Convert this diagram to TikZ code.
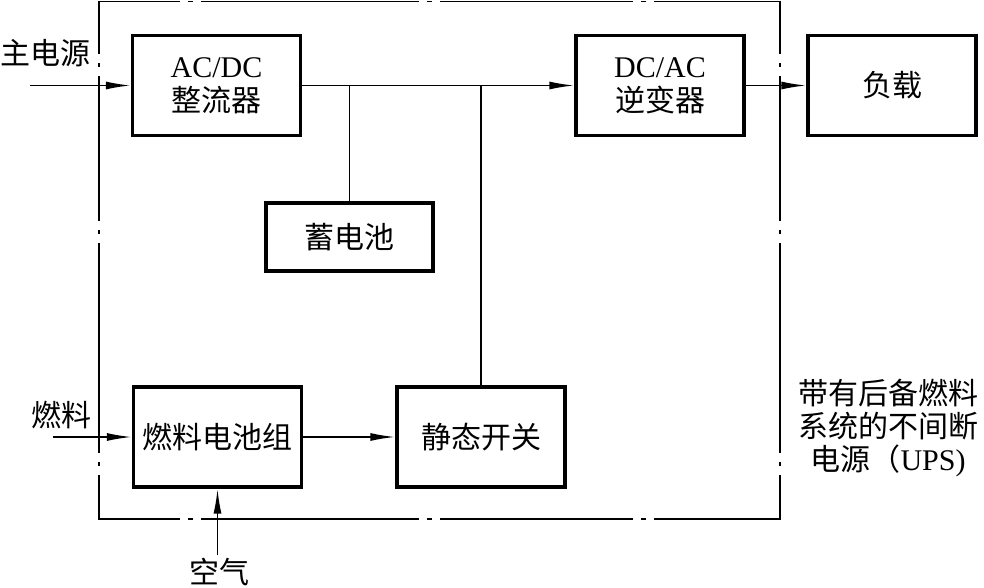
\documentclass[tikz,border=0pt]{standalone}
\usepackage{fontspec}
\setmainfont{Liberation Serif}
\newfontfamily\cjk{Noto Sans CJK SC}
\newcommand{\zhtxt}[1]{{\cjk #1}}
\usetikzlibrary{arrows.meta}
\tikzset{
  blk/.style={draw,line width=3.4pt,minimum width=168pt,minimum height=100pt,inner sep=0pt,align=center,font=\fontsize{30}{34}\selectfont},
  lbl/.style={inner sep=0pt,align=center,font=\fontsize{30}{33}\selectfont},
  wire/.style={line width=1.7pt},
  flow/.style={wire,-{Latex[length=25pt,width=8pt]}},
  framex/.style={line width=1.8pt,line cap=rect,dash pattern=on 80pt off 10pt on 3pt off 10pt on 216pt off 10pt on 3pt off 10pt on 191pt off 10pt on 3pt off 10pt on 140pt off 300pt},
  framey/.style={line width=1.8pt,line cap=rect,dash pattern=on 52pt off 10pt on 3pt off 10pt on 144pt off 10pt on 3pt off 10pt on 209pt off 10pt on 3pt off 10pt on 60pt off 300pt},
}
\begin{document}
\begin{tikzpicture}[x=1pt,y=-1pt]
  \useasboundingbox (0,0) rectangle (984,588);
  %% Frame
  \coordinate (tl) at (99,1.5);
  \coordinate (tr) at (780,1.5);
  \coordinate (bl) at (99,519);
  \coordinate (br) at (780,519);
  \draw[framex] (tl) -- (tr);
  \draw[framex] (bl) -- (br);
  \draw[framey] (tl) -- (bl);
  \draw[framey] (tr) -- (br);
  %% Blocks
  \node[blk] (acdc) at (216.5,85.5) {AC/DC\\\zhtxt{整流器}};
  \node[blk] (dcac) at (660,85.5) {DC/AC\\\zhtxt{逆变器}};
  \node[blk] (load) at (892,85.5) {\zhtxt{负载}};
  \node[blk,minimum width=167pt,minimum height=68pt] (bat) at (349.5,237) {\zhtxt{蓄电池}};
  \node[blk] (fc) at (217.5,437) {\zhtxt{燃料电池组}};
  \node[blk] (sw) at (481,437) {\zhtxt{静态开关}};
  %% Labels
  \node[lbl] (mainslbl) at (45,53) {\zhtxt{主电源}};
  \node[lbl] (fuellbl) at (61,415) {\zhtxt{燃料}};
  \node[lbl] (airlbl) at (219,572) {\zhtxt{空气}};
  \node[lbl] (upslbl) at (888,428) {\zhtxt{带有后备燃料}\\\zhtxt{系统的不间断}\\\zhtxt{电源（}UPS)};
  \coordinate (mainsin) at (30,85.5);
  \coordinate (fuelin) at (53,437);
  \coordinate (airin) at (217.5,555);
  %% Connections
  \draw[flow] (mainsin) -- (acdc.west);
  \draw[flow] (acdc.east) -- (dcac.west);
  \draw[flow] (dcac.east) -- (load.west);
  \draw[wire] (acdc.east -| bat.north) -- (bat.north);
  \draw[wire] (acdc.east -| sw.north) -- (sw.north);
  \draw[flow] (fuelin) -- (fc.west);
  \draw[flow] (fc.east) -- (sw.west);
  \draw[flow] (airin) -- (fc.south);
\end{tikzpicture}
\end{document}
